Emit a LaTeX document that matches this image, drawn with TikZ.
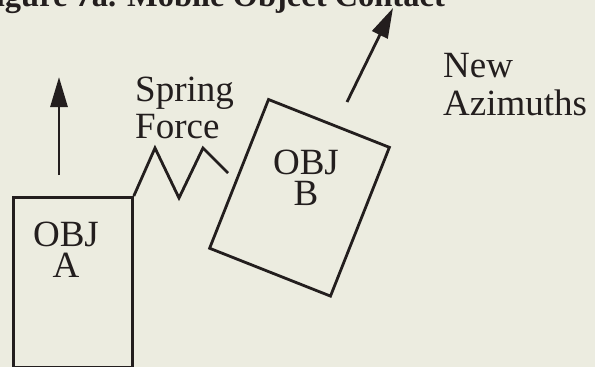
\documentclass[tikz,border=0pt]{standalone}
\usepackage{fontspec}
\setmainfont{Liberation Serif}
\usetikzlibrary{arrows.meta}
\definecolor{bg}{RGB}{236,236,224}
\definecolor{ink}{RGB}{35,30,30}
\tikzset{
  ink line/.style={draw=ink, line width=2.8pt, line join=miter},
  lbl/.style={inner sep=0pt, text=ink, font=\fontsize{37}{40}\selectfont},
  objlbl/.style={inner sep=0pt, text=ink, align=center, font=\fontsize{37}{31}\selectfont},
  ttl/.style={inner sep=0pt, text=ink, font=\bfseries\fontsize{32.5}{36}\selectfont},
  motion/.style={ink line, -{Triangle[length=30pt,width=17pt]}},
}
\begin{document}
\begin{tikzpicture}[x=1pt,y=-1pt]
\path[use as bounding box, fill=bg] (0,0) rectangle (595,367);
\clip (0,0) rectangle (595,367);
% title (cut off at the top)
\node[ttl, anchor=base east] (title) at (445,6.5) {Figure 7a. Mobile Object Contact};
% object A
\node[ink line, anchor=north west, minimum width=119pt, minimum height=169.5pt, inner sep=0pt] (objA) at (12,196) {};
\node[objlbl, anchor=base] (objAt) at (66,277) {OBJ\\A};
% object B (rotated)
\node[ink line, rotate=-21.6, minimum width=130pt, minimum height=160pt, inner sep=0pt] (objB) at (299.5,197.8) {};
\node[objlbl, anchor=base] (objBt) at (306,205) {OBJ\\B};
% motion arrows
\coordinate (aStart) at (59,175);
\coordinate (aTip) at (59,77);
\draw[motion] (aStart) -- (aTip);
\coordinate (bStart) at (347,102);
\coordinate (bTip) at (393,8);
\draw[motion] (bStart) -- (bTip);
% spring
\coordinate (s1) at (155,148);
\coordinate (s2) at (179,198);
\coordinate (s3) at (203,148);
\coordinate (sEnd) at (228,173);
\draw[ink line] (objA.north east) -- (s1) -- (s2) -- (s3) -- (sEnd);
% labels
\node[lbl, anchor=base west] (spring1) at (135,101) {Spring};
\node[lbl, anchor=base west] (spring2) at (135,138) {Force};
\node[lbl, anchor=base west] (new1) at (443,77) {New};
\node[lbl, anchor=base west] (new2) at (443,115) {Azimuths};
\end{tikzpicture}
\end{document}
